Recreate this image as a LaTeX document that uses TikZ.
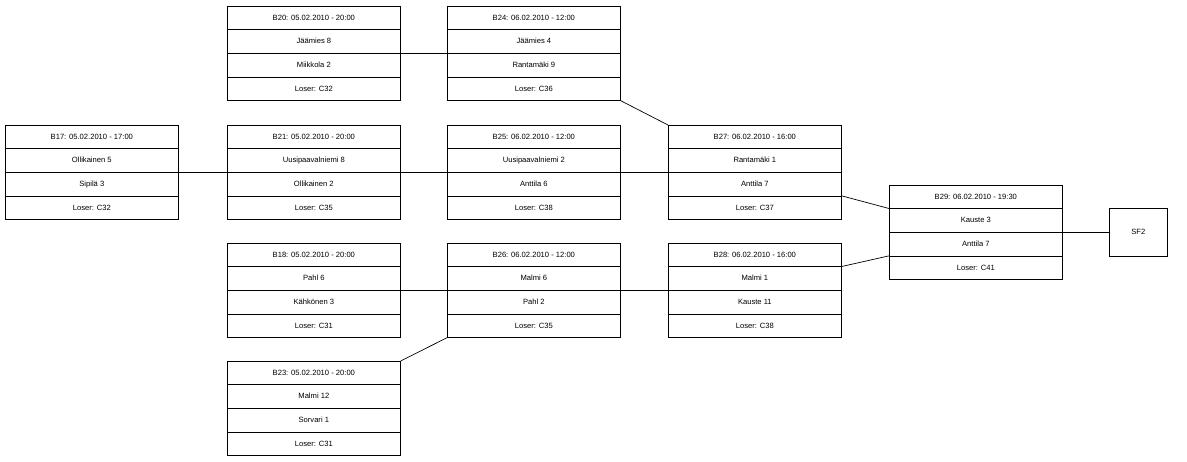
\documentclass[tikz,border=0pt]{standalone}
\usepackage{fontspec}
\setmainfont{Liberation Sans}
\begin{document}
\begin{tikzpicture}[x=1pt,y=-1pt,
  box/.style={draw,line width=0.7pt,minimum width=173pt,minimum height=94pt,inner sep=0pt},
  txt/.style={font=\fontsize{7.6}{9}\selectfont,inner sep=0pt},
  con/.style={line width=0.7pt}]
\useasboundingbox (0,0) rectangle (1187,462);
\newcommand\matchbox[7]{%
  \node[box,anchor=north west] (#1) at (#2,#3) {};
  \draw[line width=0.7pt] ([yshift=-23.5pt]#1.north west) -- ([yshift=-23.5pt]#1.north east)
    (#1.west) -- (#1.east)
    ([yshift=23.5pt]#1.south west) -- ([yshift=23.5pt]#1.south east);
  \node[txt] (#1a) at ([yshift=-11.75pt]#1.north) {#4};
  \node[txt] (#1b) at ([yshift=-35.25pt]#1.north) {#5};
  \node[txt] (#1c) at ([yshift=-11.75pt]#1.center) {#6};
  \node[txt] (#1d) at ([yshift=-35.25pt]#1.center) {#7};}
\matchbox{b17}{5}{125}{B17: 05.02.2010 - 17:00}{Ollikainen 5}{Sipilä 3}{Loser: C32}
\matchbox{b20}{227}{6}{B20: 05.02.2010 - 20:00}{Jäämies 8}{Miikkola 2}{Loser: C32}
\matchbox{b21}{227}{125}{B21: 05.02.2010 - 20:00}{Uusipaavalniemi 8}{Ollikainen 2}{Loser: C35}
\matchbox{b18}{227}{243}{B18: 05.02.2010 - 20:00}{Pahl 6}{Kähkönen 3}{Loser: C31}
\matchbox{b23}{227}{361}{B23: 05.02.2010 - 20:00}{Malmi 12}{Sorvari 1}{Loser: C31}
\matchbox{b24}{447}{6}{B24: 06.02.2010 - 12:00}{Jäämies 4}{Rantamäki 9}{Loser: C36}
\matchbox{b25}{447}{125}{B25: 06.02.2010 - 12:00}{Uusipaavalniemi 2}{Anttila 6}{Loser: C38}
\matchbox{b26}{447}{243}{B26: 06.02.2010 - 12:00}{Malmi 6}{Pahl 2}{Loser: C35}
\matchbox{b27}{668}{125}{B27: 06.02.2010 - 16:00}{Rantamäki 1}{Anttila 7}{Loser: C37}
\matchbox{b28}{668}{243}{B28: 06.02.2010 - 16:00}{Malmi 1}{Kauste 11}{Loser: C38}
\matchbox{b29}{889}{185}{B29: 06.02.2010 - 19:30}{Kauste 3}{Anttila 7}{Loser: C41}
\node[draw,line width=0.7pt,minimum width=58pt,minimum height=48pt,inner sep=0pt,anchor=north west,font=\fontsize{7.6}{9}\selectfont] (sf2) at (1109,208) {SF2};
\draw[con] (b20.east) -- (b24.west);
\draw[con] (b24.south east) -- (b27.north west);
\draw[con] (b17.east) -- (b21.west);
\draw[con] (b21.east) -- (b25.west);
\draw[con] (b25.east) -- (b27.west);
\draw[con] ([yshift=-23.5pt]b27.east) -- ([yshift=-23.5pt]b29.north west);
\draw[con] ([yshift=-23.5pt]b28.north east) -- ([yshift=-23.5pt]b29.west);
\draw[con] (b29.east) -- (sf2.west);
\draw[con] (b18.east) -- (b26.west);
\draw[con] (b26.east) -- (b28.west);
\draw[con] (b23.north east) -- (b26.south west);
\end{tikzpicture}
\end{document}
